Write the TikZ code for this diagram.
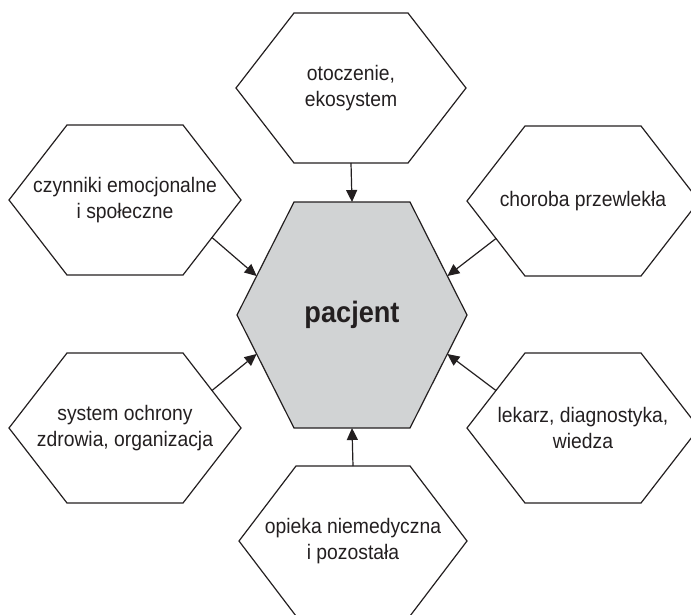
\documentclass[tikz,border=0pt]{standalone}
\usepackage{fontspec}
\setmainfont{Liberation Sans}[FakeStretch=0.92]
\usepackage{xcolor}
\usepackage{tikz}
\usetikzlibrary{arrows.meta, calc}
\definecolor{inkgray}{RGB}{35, 31, 32}
\definecolor{patientgray}{RGB}{209, 211, 212}

\begin{document}
\begin{tikzpicture}[x=1pt, y=-1pt,
    hexline/.style={draw=inkgray, line width=1.2pt, line join=miter},
    hextext/.style={align=center, text=inkgray, font=\fontsize{21}{25.5}\selectfont},
    link/.style={draw=inkgray, line width=1.2pt, -{Triangle[length=12pt, width=11pt]}}]
    \clip (0,0) rectangle (691,614);

    % Define hexagon corners (0 right, then counter-clockwise) and centres
    \foreach \name/\cx/\cy/\hw/\tw/\hh in {pac/352/315/115/58/113, env/351/88/115/57/75,
            emo/125/200/116/58/75, chr/583/201/116/58/75, sys/125/428/116/58/75,
            doc/583/428/116/58/75, care/353/541/114/57/75} {
        \coordinate (\name C) at (\cx,\cy);
        \coordinate (\name0) at (\cx+\hw,\cy);
        \coordinate (\name1) at (\cx+\tw,\cy-\hh);
        \coordinate (\name2) at (\cx-\tw,\cy-\hh);
        \coordinate (\name3) at (\cx-\hw,\cy);
        \coordinate (\name4) at (\cx-\tw,\cy+\hh);
        \coordinate (\name5) at (\cx+\tw,\cy+\hh);
    }

    % Draw central hexagon
    \draw[hexline, fill=patientgray] (pac0) -- (pac1) -- (pac2) -- (pac3)
                 -- (pac4) -- (pac5) -- cycle;

    % Draw outer hexagons
    \foreach \name in {env, emo, chr, sys, doc, care} {
        \draw[hexline] (\name0) -- (\name1) -- (\name2) -- (\name3)
                 -- (\name4) -- (\name5) -- cycle;
    }

    % Labels
    \node[hextext, font=\fontsize{29.5}{34}\selectfont\bfseries] (pacjent) at (pacC) {pacjent};
    \node[hextext] (otoczenie) at (envC) {otoczenie,\\ekosystem};
    \node[hextext] (czynniki) at (emoC) {czynniki emocjonalne\\i społeczne};
    \node[hextext] (choroba) at (chrC) {choroba przewlekła};
    \node[hextext] (system) at (sysC) {system ochrony\\zdrowia, organizacja};
    \node[hextext] (lekarz) at (docC) {lekarz, diagnostyka,\\wiedza};
    \node[hextext] (opieka) at (careC) {opieka niemedyczna\\i pozostała};

    % Draw arrows towards the patient
    \draw[link] ($(env4)!0.5!(env5)$) -- ($(pac1)!0.5!(pac2)$);
    \draw[link] ($(emo0)!0.5!(emo5)$) -- ($(pac3)!0.345!(pac2)$);
    \draw[link] ($(chr3)!0.5!(chr4)$) -- ($(pac0)!0.345!(pac1)$);
    \draw[link] ($(sys0)!0.5!(sys1)$) -- ($(pac3)!0.345!(pac4)$);
    \draw[link] ($(doc3)!0.5!(doc2)$) -- ($(pac0)!0.345!(pac5)$);
    \draw[link] ($(care1)!0.5!(care2)$) -- ($(pac4)!0.5!(pac5)$);
\end{tikzpicture}
\end{document}
